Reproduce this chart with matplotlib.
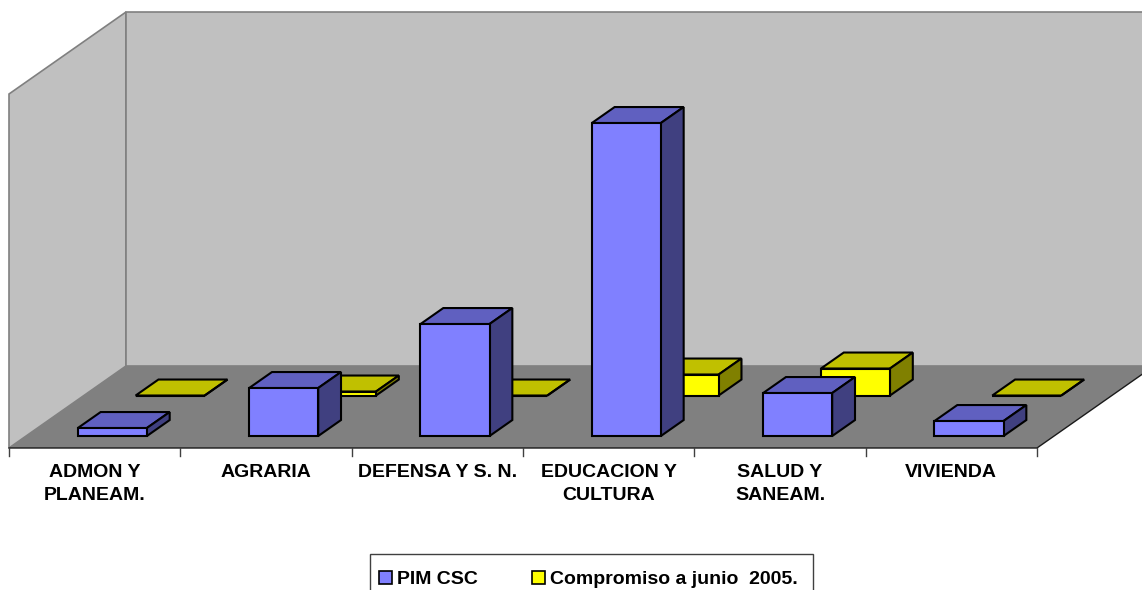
import matplotlib
matplotlib.use("Agg")
from matplotlib import pyplot as plt
from matplotlib.patches import Patch, Polygon, Rectangle

plt.rcParams["font.family"] = ["Liberation Sans", "DejaVu Sans"]

categories = ["ADMON Y\nPLANEAM.", "AGRARIA", "DEFENSA Y S. N.",
              "EDUCACION Y\nCULTURA", "SALUD Y\nSANEAM.", "VIVIENDA"]
pim_csc = [80, 480, 1120, 3130, 430, 150]
compromiso = [0, 40, 0, 210, 270, 0]
series_names = ["PIM CSC", "Compromiso a junio  2005."]

# chart box, in picture pixels
x0, y0 = 9, 448
cat_w = 171.33
depth_dx, depth_dy = 117, 82
wall_h = 354
y_max = 3540
bar_left, bar_right = 0.302, 0.705


def project(x, d, v):
    return (x0 + cat_w * x + depth_dx * d, y0 - depth_dy * d - wall_h * v / y_max)


def bar3d(ax, i, value, d0, d1, front, top, side):
    x1, x2 = i + bar_left, i + bar_right
    faces = [
        ([(x1, d0, value), (x2, d0, value), (x2, d1, value), (x1, d1, value)], top),
        ([(x2, d0, 0), (x2, d1, 0), (x2, d1, value), (x2, d0, value)], side),
        ([(x1, d0, 0), (x2, d0, 0), (x2, d0, value), (x1, d0, value)], front),
    ]
    for pts, color in faces:
        ax.add_patch(Polygon([project(*p) for p in pts], closed=True, fc=color,
                             ec="black", lw=1.5, joinstyle="miter"))


n = len(categories)
fig = plt.figure(figsize=(11.42, 5.90), dpi=100)
ax = fig.add_axes([0, 0, 1, 1])
ax.set_xlim(0, 1142)
ax.set_ylim(590, 0)
ax.axis("off")

# walls and floor
wall_kw = dict(closed=True, fc="#C0C0C0", ec="#808080", lw=1.2)
ax.add_patch(Polygon([project(0, 0, 0), project(0, 1, 0), project(0, 1, y_max), project(0, 0, y_max)], **wall_kw))
ax.add_patch(Polygon([project(0, 1, 0), project(n, 1, 0), project(n, 1, y_max), project(0, 1, y_max)], **wall_kw))
ax.add_patch(Polygon([project(0, 0, 0), project(n, 0, 0), project(n, 1, 0), project(0, 1, 0)],
                     closed=True, fc="#808080", ec="none"))

# front and right floor edges + ticks
ax.plot(*zip(project(0, 0, 0), project(n, 0, 0), project(n, 1, 0)), color="#1a1a1a", lw=1)
for i in range(n + 1):
    px, py = project(i, 0, 0)
    ax.plot([px, px], [py, py + 8], color="#404040", lw=1)

# yellow row is behind the blue one
for i in range(n):
    bar3d(ax, i, compromiso[i], 0.64, 0.835, "#FFFF00", "#C0C000", "#808000")
    bar3d(ax, i, pim_csc[i], 0.146, 0.341, "#8080FF", "#6060C0", "#404080")

for i, label in enumerate(categories):
    px, py = project(i + 0.5, 0, 0)
    ax.text(px, py + 16, label, ha="center", va="top", fontsize=14,
            fontweight="bold", color="black", linespacing=1.45)

# legend box runs off the bottom of the picture
ax.add_patch(Rectangle((370, 554), 443, 50, fc="white", ec="#404040", lw=1))
handles = [Patch(fc="#8080FF", ec="black", lw=1.2), Patch(fc="#FFFF00", ec="black", lw=1.2)]
ax.legend(handles, series_names, ncol=2, loc="upper left", bbox_to_anchor=(379, 571),
          bbox_transform=ax.transData, frameon=False,
          prop=dict(size=14, weight="bold"), borderpad=0, borderaxespad=0,
          handlelength=0.67, handleheight=0.67, handletextpad=0.28, columnspacing=2.75)

fig.savefig("out.png", dpi=100)
